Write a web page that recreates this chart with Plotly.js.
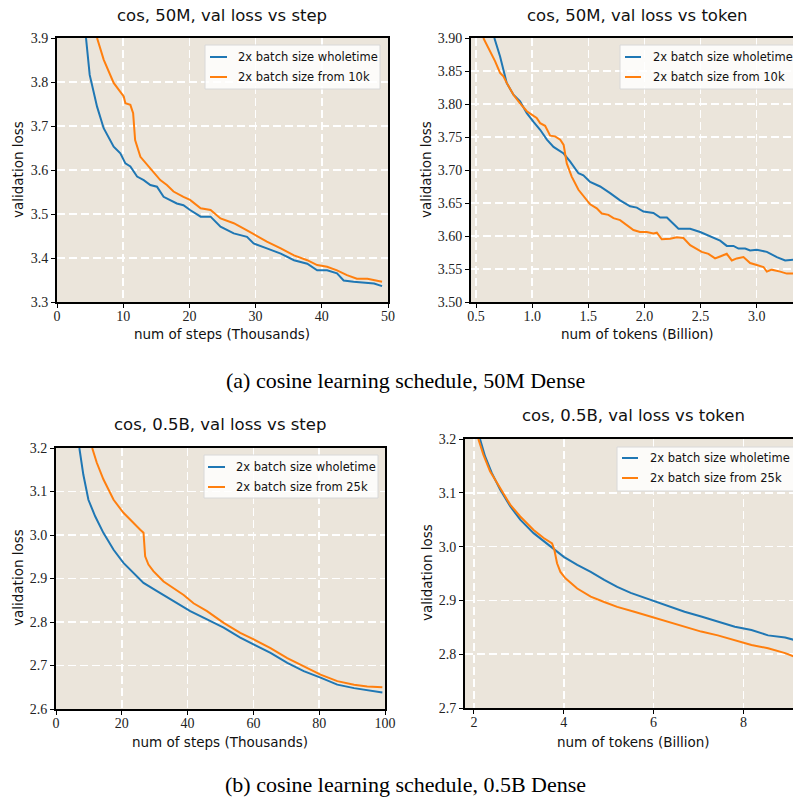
<!DOCTYPE html>
<html>
<head>
<meta charset="utf-8">
<script src="https://cdn.plot.ly/plotly-3.0.1.min.js"></script>
<style>html,body{margin:0;padding:0;background:#fff;}#chart{width:793px;height:801px;}</style>
</head>
<body>
<div id="chart"></div>
<script>
// ---------- DATA ----------
const seriesNames = ["2x batch size wholetime", "2x batch size from 10k", "2x batch size from 25k"];

// Panel (a) left: 50M, val loss vs step (thousands)
const a1_whole_x = [4.38,4.94,6.05,7.05,8.56,9.57,10.33,11.08,12.1,13.1,14.1,15.1,16.1,17.1,18.1,19.1,20.1,21.7,23.2,24.7,26.7,28.7,29.7,31.7,33.8,35.8,37.8,39.3,40.8,42.3,43.3,44.8,46.9,47.9,49.1];
const a1_whole_y = [3.900,3.816,3.744,3.695,3.653,3.638,3.615,3.608,3.585,3.577,3.566,3.562,3.539,3.532,3.524,3.520,3.509,3.494,3.494,3.471,3.456,3.448,3.433,3.422,3.410,3.395,3.387,3.372,3.372,3.365,3.349,3.346,3.343,3.342,3.336];
const a1_from_x = [6.05,7.05,8.56,10.08,10.33,11.08,11.5,11.8,12.6,13.6,14.6,15.6,16.6,17.6,19.1,20.1,21.7,23.2,24.7,26.7,28.7,29.97,31.7,33.8,35.8,37.8,39.3,40.8,42.3,43.8,45.3,46.9,48.4,49.1];
const a1_from_y = [3.900,3.851,3.798,3.767,3.752,3.748,3.729,3.668,3.630,3.612,3.596,3.577,3.566,3.551,3.539,3.532,3.513,3.509,3.490,3.479,3.463,3.452,3.437,3.422,3.406,3.395,3.384,3.380,3.372,3.361,3.353,3.353,3.349,3.346];

// Panel (a) right: 50M, val loss vs token (billion)
const a2_whole_x = [0.663,0.714,0.773,0.833,0.892,0.952,1.012,1.071,1.131,1.19,1.28,1.337,1.412,1.456,1.516,1.605,1.694,1.783,1.872,1.932,1.991,2.08,2.14,2.2,2.303,2.407,2.496,2.585,2.674,2.733,2.793,2.837,2.897,2.941,3.0,3.09,3.179,3.253,3.327];
const a2_whole_y = [3.900,3.872,3.832,3.814,3.804,3.786,3.773,3.761,3.746,3.735,3.725,3.713,3.695,3.692,3.682,3.675,3.665,3.654,3.645,3.643,3.637,3.635,3.628,3.628,3.611,3.611,3.606,3.599,3.593,3.585,3.585,3.581,3.581,3.578,3.579,3.576,3.568,3.563,3.564];
const a2_from_x = [0.565,0.61,0.669,0.714,0.744,0.773,0.833,0.892,0.952,1.012,1.04,1.071,1.115,1.16,1.204,1.25,1.28,1.308,1.352,1.412,1.456,1.516,1.575,1.62,1.679,1.724,1.783,1.842,1.902,1.96,2.02,2.08,2.11,2.154,2.229,2.288,2.347,2.407,2.466,2.51,2.57,2.629,2.674,2.733,2.778,2.822,2.882,2.941,3.0,3.06,3.09,3.134,3.209,3.268,3.327];
const a2_from_y = [3.900,3.885,3.865,3.847,3.842,3.832,3.814,3.801,3.789,3.782,3.779,3.771,3.767,3.752,3.751,3.746,3.738,3.710,3.690,3.670,3.660,3.648,3.642,3.634,3.632,3.627,3.624,3.616,3.609,3.606,3.606,3.604,3.605,3.595,3.596,3.598,3.597,3.586,3.581,3.576,3.573,3.566,3.569,3.573,3.563,3.566,3.568,3.559,3.556,3.553,3.546,3.549,3.546,3.543,3.543];

// Panel (b) left: 0.5B, val loss vs step (thousands)
const b1_whole_x = [7.1,8.3,9.85,11.9,14.4,17.5,20.5,23.6,26.6,30.7,35.7,40.8,45.9,50.96,56.0,60.1,65.2,70.3,75.3,80.4,85.5,90.6,94.6,99.2];
const b1_whole_y = [3.200,3.139,3.081,3.043,3.005,2.966,2.936,2.913,2.890,2.871,2.848,2.825,2.806,2.787,2.764,2.748,2.729,2.706,2.687,2.672,2.656,2.648,2.643,2.638];
const b1_from_x = [11.0,12.4,14.4,17.5,20.5,23.6,25.6,26.6,26.8,27.1,28.1,29.6,32.7,35.7,38.8,41.8,45.9,50.96,56.0,60.1,65.2,70.3,75.3,80.4,85.5,90.6,94.6,99.2];
const b1_from_y = [3.200,3.166,3.128,3.081,3.051,3.026,3.012,3.005,2.989,2.951,2.932,2.917,2.893,2.878,2.862,2.843,2.825,2.798,2.775,2.760,2.740,2.717,2.698,2.679,2.664,2.656,2.652,2.650];

// Panel (b) right: 0.5B, val loss vs token (billion)
const b2_whole_x = [2.134,2.246,2.396,2.582,2.806,3.03,3.328,3.627,3.813,4.0,4.3,4.6,4.9,5.19,5.49,5.79,6.09,6.39,6.69,7.06,7.43,7.81,8.18,8.55,8.93,9.15];
const b2_whole_y = [3.200,3.168,3.137,3.106,3.075,3.050,3.025,3.006,2.994,2.981,2.966,2.953,2.938,2.925,2.914,2.905,2.897,2.888,2.879,2.870,2.860,2.851,2.845,2.835,2.831,2.826];
const b2_from_x = [2.097,2.209,2.358,2.582,2.806,3.03,3.328,3.552,3.739,3.79,3.85,3.925,4.037,4.3,4.6,4.9,5.19,5.57,5.94,6.31,6.69,7.06,7.43,7.81,8.18,8.55,8.93,9.15];
const b2_from_y = [3.200,3.171,3.140,3.109,3.078,3.056,3.031,3.016,3.006,2.994,2.969,2.953,2.941,2.922,2.907,2.897,2.888,2.879,2.870,2.860,2.851,2.842,2.835,2.826,2.817,2.811,2.802,2.795];

const titles = ["cos, 50M, val loss vs step", "cos, 50M, val loss vs token", "cos, 0.5B, val loss vs step", "cos, 0.5B, val loss vs token"];
const xLabels = ["num of steps (Thousands)", "num of tokens (Billion)", "num of steps (Thousands)", "num of tokens (Billion)"];
const yLabel = "validation loss";
const captions = ["(a) cosine learning schedule, 50M Dense", "(b) cosine learning schedule, 0.5B Dense"];

// ---------- STYLE ----------
const W = 793, H = 801;
const BLUE = "#1f77b4", ORANGE = "#ff7f0e", BG = "#ebe5db";
const px = v => v / W;
const py = v => 1 - v / H;

const traces = [
  {x: a1_whole_x, y: a1_whole_y, xaxis: "x", yaxis: "y", line: {color: BLUE}},
  {x: a1_from_x, y: a1_from_y, xaxis: "x", yaxis: "y", line: {color: ORANGE}},
  {x: a2_whole_x, y: a2_whole_y, xaxis: "x2", yaxis: "y2", line: {color: BLUE}},
  {x: a2_from_x, y: a2_from_y, xaxis: "x2", yaxis: "y2", line: {color: ORANGE}},
  {x: b1_whole_x, y: b1_whole_y, xaxis: "x3", yaxis: "y3", line: {color: BLUE}},
  {x: b1_from_x, y: b1_from_y, xaxis: "x3", yaxis: "y3", line: {color: ORANGE}},
  {x: b2_whole_x, y: b2_whole_y, xaxis: "x4", yaxis: "y4", line: {color: BLUE}},
  {x: b2_from_x, y: b2_from_y, xaxis: "x4", yaxis: "y4", line: {color: ORANGE}}
].map(t => Object.assign(t, {type: "scatter", mode: "lines", showlegend: false, hoverinfo: "skip", line: Object.assign(t.line, {width: 2})}));

const tickFont = {family: "Liberation Serif, serif", size: 14, color: "#222"};
function ax(domain, range, dtick, tick0, fmt, anchor, mirror, standoff) {
  return {
    domain: domain, range: range, dtick: dtick, tick0: tick0, tickformat: fmt, anchor: anchor,
    showline: true, linecolor: "#000", linewidth: 2, mirror: mirror,
    ticks: "outside", ticklen: 4, tickwidth: 1, tickcolor: "#000",
    ticklabelstandoff: standoff,
    showgrid: true, gridcolor: "#ffffff", gridwidth: 1.5, griddash: "8px,4px",
    zeroline: false, tickfont: tickFont, fixedrange: true
  };
}

const layout = {
  width: W, height: H,
  margin: {l: 0, r: 0, t: 0, b: 0},
  paper_bgcolor: "#ffffff",
  plot_bgcolor: BG,
  showlegend: false,
  xaxis:  ax([px(57), px(388)], [0, 50], 10, 0, "d", "y", true, -4),
  yaxis:  ax([py(302), py(38)], [3.3, 3.9], 0.1, 3.3, ".1f", "x", true, 0),
  xaxis2: ax([px(471), 1], [0.455, 3.323], 0.5, 0.5, ".1f", "y2", true, -4),
  yaxis2: ax([py(302), py(38)], [3.5, 3.9], 0.05, 3.5, ".2f", "x2", false, 0),
  xaxis3: ax([px(56), px(385)], [0, 100], 20, 0, "d", "y3", true, -4),
  yaxis3: ax([py(709), py(448)], [2.6, 3.2], 0.1, 2.6, ".1f", "x3", true, 0),
  xaxis4: ax([px(465), 1], [1.8, 9.105], 2, 2, "d", "y4", true, -4),
  yaxis4: ax([py(708), py(439)], [2.7, 3.2], 0.1, 2.7, ".1f", "x4", false, 0),
  shapes: [],
  annotations: []
};

const textFont = {family: "DejaVu Sans, sans-serif", size: 16.5, color: "#111"};
const labelFont = {family: "DejaVu Sans, sans-serif", size: 13.5, color: "#111"};
const legFont = {family: "DejaVu Sans, sans-serif", size: 11.5, color: "#111"};

function ann(text, x, y, font, extra) {
  layout.annotations.push(Object.assign({
    text: text, x: px(x), y: py(y), xref: "paper", yref: "paper",
    showarrow: false, xanchor: "center", yanchor: "middle", font: font
  }, extra || {}));
}

// titles
ann(titles[0], 222, 15, textFont);
ann(titles[1], 637, 15, textFont);
ann(titles[2], 220, 425, textFont);
ann(titles[3], 633, 415, textFont);
// x labels
ann(xLabels[0], 222, 334, labelFont);
ann(xLabels[1], 637, 334, labelFont);
ann(xLabels[2], 220, 742, labelFont);
ann(xLabels[3], 633, 742, labelFont);
// y labels
ann(yLabel, 18, 170, labelFont, {textangle: -90});
ann(yLabel, 426, 170, labelFont, {textangle: -90});
ann(yLabel, 18, 578, labelFont, {textangle: -90});
ann(yLabel, 427, 573, labelFont, {textangle: -90});
// captions
const capFont = {family: "Liberation Serif, Times New Roman, serif", size: 22, color: "#000"};
ann(captions[0], 405, 380, capFont);
ann(captions[1], 405, 784, capFont);

// legends
function legend(x0, x1, y0, y1, sx0, sx1, tx, r1, r2, labels) {
  layout.shapes.push({type: "rect", xref: "paper", yref: "paper", x0: px(x0), x1: px(x1), y0: py(y1), y1: py(y0),
    fillcolor: "rgba(255,255,255,0.82)", line: {color: "#d8d8d8", width: 1}, layer: "above"});
  [[r1, BLUE, labels[0]], [r2, ORANGE, labels[1]]].forEach(([ry, c, t]) => {
    layout.shapes.push({type: "line", xref: "paper", yref: "paper", x0: px(sx0), x1: px(sx1), y0: py(ry), y1: py(ry),
      line: {color: c, width: 2}, layer: "above"});
    ann(t, tx, ry, legFont, {xanchor: "left"});
  });
}
legend(205, 380, 45, 89, 210, 227, 236, 57, 77, [seriesNames[0], seriesNames[1]]);
legend(620, 820, 45, 89, 625, 641, 651, 57, 77, [seriesNames[0], seriesNames[1]]);
legend(204, 378, 455, 498, 208, 225, 234, 467, 487, [seriesNames[0], seriesNames[2]]);
legend(617, 820, 447, 491, 622, 638, 648, 458, 478, [seriesNames[0], seriesNames[2]]);

Plotly.newPlot("chart", traces, layout, {staticPlot: true, displayModeBar: false});
</script>
</body>
</html>
